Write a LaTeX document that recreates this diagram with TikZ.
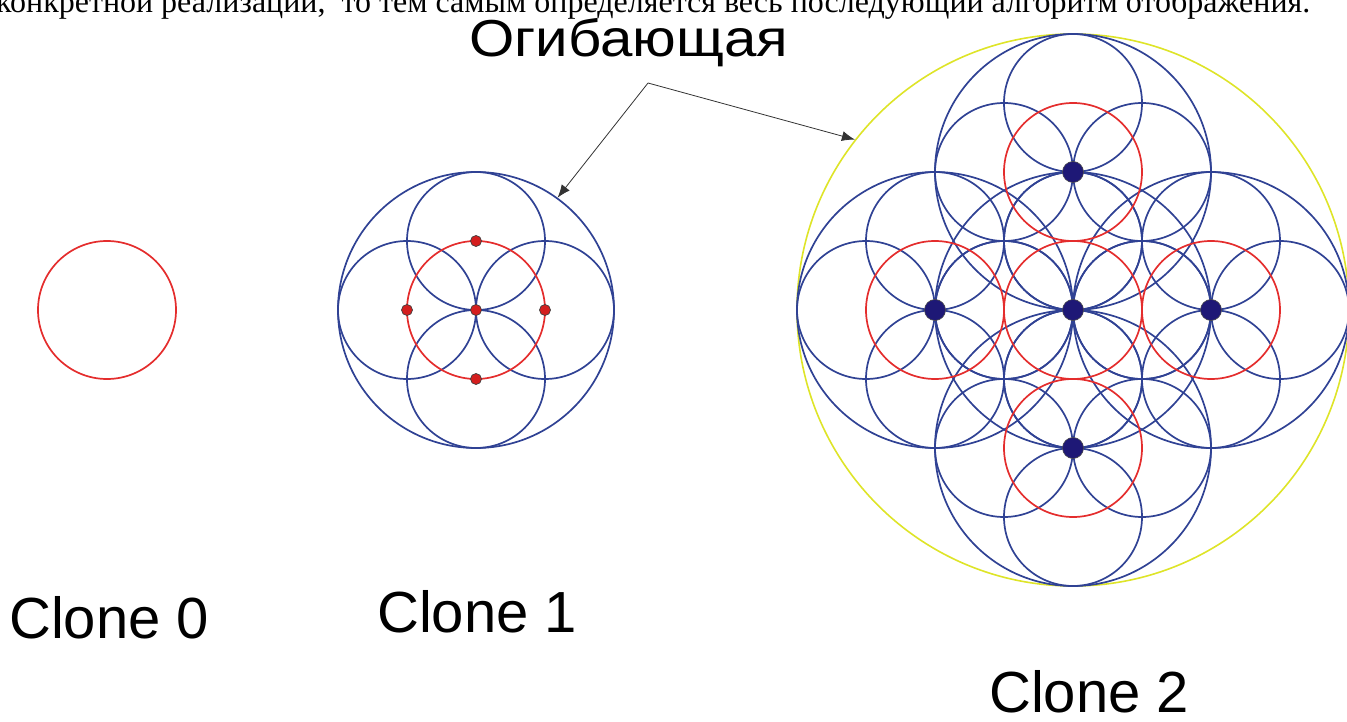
\documentclass[tikz,border=0pt]{standalone}
\usepackage{fontspec}
\setmainfont{Liberation Serif}
\newfontfamily\labelfont{Liberation Sans}
\usetikzlibrary{arrows.meta}

\definecolor{ringblue}{RGB}{48,66,148}
\definecolor{ringred}{RGB}{228,45,45}
\definecolor{hullyellow}{RGB}{222,228,40}
\definecolor{dotnavy}{RGB}{30,24,118}
\definecolor{dotred}{RGB}{212,30,30}

\begin{document}
\begin{tikzpicture}[
        x=1pt, y=-1pt,
        redring/.style={draw=ringred, line width=1.7pt},
        bluering/.style={draw=ringblue, line width=1.7pt},
        envelope/.style={
            circle, draw=ringblue, line width=1.7pt,
            inner sep=0pt, minimum size=276pt
        },
        hull/.style={
            circle, draw=hullyellow, line width=1.6pt,
            inner sep=0pt, minimum size=552pt
        },
        reddot/.style={
            circle, fill=dotred, draw=black!75, line width=0.7pt,
            inner sep=0pt, minimum size=11pt
        },
        navydot/.style={
            circle, fill=dotnavy, draw=black!70, line width=0.6pt,
            inner sep=0pt, minimum size=21pt
        },
        caption/.style={
            font=\labelfont\fontsize{58}{62}\selectfont,
            anchor=base west, inner sep=0pt
        },
        pointer/.style={
            -{Latex[length=13pt, width=10pt]},
            draw=black!80, line width=0.8pt
        }
    ]

    \useasboundingbox (0,0) rectangle (1347,722);
    \clip (0,0) rectangle (1347,722);

    \node[font=\fontsize{32}{36}\selectfont, anchor=base west, inner sep=0pt]
        (intro) at (-4,13) {конкретной реализации, \ то тем самым определяется весь последующий алгоритм отображения.};

    % Clone 0
    \coordinate (c0) at (107,310);
    \draw[redring] (c0) circle[radius=69];

    % Clone 1
    \coordinate (c1) at (476,310);
    \foreach \dx/\dy in {0/-69, -69/0, 69/0, 0/69}
        \draw[bluering] ([shift={(\dx,\dy)}]c1) circle[radius=69];
    \node[envelope] (env1) at (c1) {};
    \draw[redring] (c1) circle[radius=69];
    \node[reddot] (d1mid) at (c1) {};
    \node[reddot] (d1n) at ([shift={(0,-69)}]c1) {};
    \node[reddot] (d1w) at ([shift={(-69,0)}]c1) {};
    \node[reddot] (d1e) at ([shift={(69,0)}]c1) {};
    \node[reddot] (d1s) at ([shift={(0,69)}]c1) {};

    % Clone 2
    \coordinate (c2) at (1073,310);
    \node[hull] (hull) at (c2) {};
    \foreach \cx/\cy in {0/0, -138/0, 138/0, 0/-138, 0/138} {
        \foreach \dx/\dy in {0/-69, -69/0, 69/0, 0/69}
            \draw[bluering] ([shift={(\cx+\dx,\cy+\dy)}]c2) circle[radius=69];
        \draw[bluering] ([shift={(\cx,\cy)}]c2) circle[radius=138];
    }
    \foreach \cx/\cy/\nm in {0/0/mid, -138/0/w, 138/0/e, 0/-138/n, 0/138/s} {
        \draw[redring] ([shift={(\cx,\cy)}]c2) circle[radius=69];
        \node[navydot] (d2\nm) at ([shift={(\cx,\cy)}]c2) {};
    }

    % label and pointers
    \node[font=\labelfont\fontsize{52}{56}\selectfont, anchor=base west, inner sep=0pt]
        (title) at (469,57) {\scalebox{1.12}[1]{Огибающая}};
    \coordinate (apex) at (648,83);
    \draw[pointer] (apex) -- (env1.54);
    \draw[pointer] (apex) -- (hull.142);

    \node[caption] (cap0) at (9,638) {Clone 0};
    \node[caption] (cap1) at (377,632) {Clone 1};
    \node[caption] (cap2) at (989,712) {Clone 2};

\end{tikzpicture}
\end{document}
